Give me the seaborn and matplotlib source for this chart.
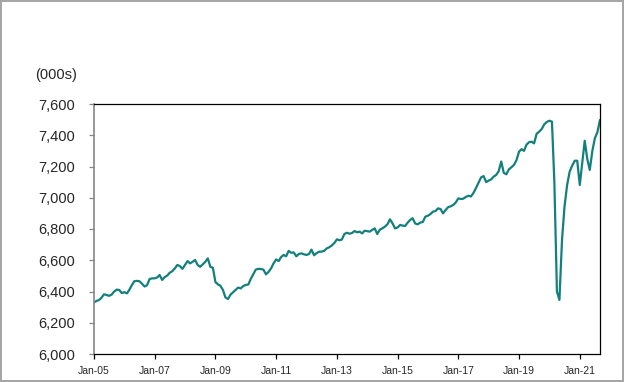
import pandas as pd
import matplotlib
matplotlib.use("Agg")
import matplotlib.pyplot as plt
import seaborn as sns

# Monthly employment (000s), Jan 2005 - Sep 2021
y2005 = [6330, 6340, 6345, 6360, 6382, 6378, 6372, 6380, 6400, 6412, 6410, 6390]
y2006 = [6396, 6388, 6410, 6440, 6466, 6468, 6466, 6450, 6432, 6440, 6480, 6484]
y2007 = [6484, 6490, 6506, 6474, 6492, 6502, 6520, 6530, 6548, 6570, 6562, 6545]
y2008 = [6570, 6595, 6580, 6590, 6602, 6570, 6558, 6574, 6590, 6612, 6558, 6552]
y2009 = [6460, 6445, 6437, 6410, 6362, 6352, 6380, 6395, 6410, 6425, 6420, 6435]
y2010 = [6442, 6445, 6480, 6510, 6540, 6545, 6544, 6540, 6510, 6525, 6548, 6580]
y2011 = [6605, 6595, 6620, 6634, 6625, 6660, 6648, 6650, 6625, 6640, 6644, 6638]
y2012 = [6634, 6640, 6668, 6632, 6645, 6655, 6655, 6660, 6676, 6683, 6695, 6710]
y2013 = [6734, 6728, 6732, 6768, 6776, 6770, 6774, 6787, 6779, 6783, 6772, 6789]
y2014 = [6786, 6783, 6794, 6804, 6768, 6795, 6804, 6815, 6830, 6862, 6836, 6804]
y2015 = [6810, 6826, 6822, 6819, 6840, 6858, 6869, 6835, 6830, 6841, 6845, 6879]
y2016 = [6885, 6896, 6911, 6915, 6932, 6928, 6900, 6922, 6940, 6945, 6954, 6970]
y2017 = [6996, 6992, 6994, 7005, 7013, 7008, 7030, 7062, 7096, 7130, 7139, 7100]
y2018 = [7110, 7118, 7135, 7146, 7170, 7232, 7160, 7150, 7182, 7195, 7210, 7240]
y2019 = [7295, 7311, 7300, 7340, 7355, 7359, 7348, 7410, 7423, 7440, 7470, 7485]
y2020 = [7493, 7487, 7100, 6399, 6346, 6730, 6943, 7080, 7167, 7205, 7237, 7237]
y2021 = [7082, 7230, 7365, 7248, 7178, 7300, 7380, 7420, 7498]

employment = (y2005 + y2006 + y2007 + y2008 + y2009 + y2010 + y2011 + y2012
              + y2013 + y2014 + y2015 + y2016 + y2017 + y2018 + y2019 + y2020 + y2021)
months = pd.date_range("2005-01-01", periods=len(employment), freq="MS")
df = pd.DataFrame({"month": months, "employment": employment})

tick_dates = pd.date_range("2005-01-01", "2021-01-01", freq="24MS")
tick_labels = [d.strftime("%b-%y") for d in tick_dates]
y_ticks = list(range(6000, 7601, 200))

sns.set_style("white")
plt.rcParams["font.family"] = ["Liberation Sans", "DejaVu Sans"]

fig = plt.figure(figsize=(6.24, 3.82), dpi=100)
fig.patch.set_edgecolor("#a6a6a6")
fig.patch.set_linewidth(1.5)
ax = fig.add_axes([94 / 624, 1 - 354 / 382, 506 / 624, 250 / 382])

sns.lineplot(data=df, x="month", y="employment", ax=ax, color="#12807c", linewidth=1.6)

ax.set_xlim(months[0], months[-1])
ax.set_ylim(6000, 7600)
ax.set_xticks(tick_dates)
ax.set_xticklabels(tick_labels, fontsize=7.5)
ax.set_yticks(y_ticks)
ax.set_yticklabels([f"{v:,}" for v in y_ticks], fontsize=10.5)
ax.set_xlabel("")
ax.set_ylabel("")

for side in ["top", "right", "bottom"]:
    ax.spines[side].set_color("black")
    ax.spines[side].set_linewidth(0.9)
ax.spines["left"].set_color("#868686")
ax.spines["left"].set_linewidth(1.2)

ax.tick_params(axis="y", which="both", left=True, direction="out", length=3.5,
               width=0.9, color="#868686", pad=10)
ax.tick_params(axis="x", which="both", bottom=True, direction="out", length=3.5,
               width=0.9, color="black", pad=5)

fig.text(35 / 624, 1 - 75 / 382, "(000s)", fontsize=10.5, va="center", ha="left")

plt.savefig("out.png", dpi=100)
